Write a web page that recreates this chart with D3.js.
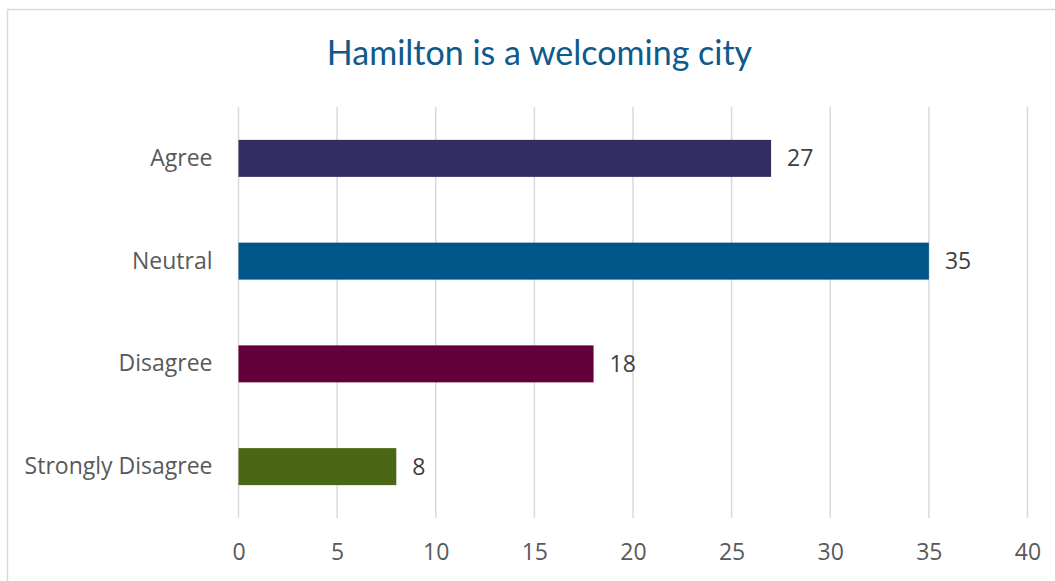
<!DOCTYPE html>
<html><head><meta charset="utf-8">
<script src="https://cdn.jsdelivr.net/npm/d3@7"></script>
<style>body{margin:0;background:#fff;}svg{display:block;}</style>
</head><body>
<script>
const title = "Hamilton is a welcoming city";
const categories = ["Agree", "Neutral", "Disagree", "Strongly Disagree"];
const values = [27, 35, 18, 8];
const colors = ["#322C63", "#01578A", "#63003C", "#4A6716"];
const xTicks = [0, 5, 10, 15, 20, 25, 30, 35, 40];

const W = 1055, H = 581;
const font = "'Open Sans', sans-serif";
const titleFont = "Lato, 'Open Sans', sans-serif";
const fs = 23;
const svg = d3.select("body").append("svg").attr("width", W).attr("height", H);

svg.append("rect").attr("x", 7.5).attr("y", 9.5).attr("width", W + 10).attr("height", H + 10)
  .attr("fill", "#fff").attr("stroke", "#D9D9D9").attr("stroke-width", 1.5);

const x = d3.scaleLinear().domain([0, 40]).range([238.5, 1027.5]);
const y = d3.scaleBand().domain(categories).range([107, 518]).paddingInner(0.64).paddingOuter(0.32);

// gridlines
svg.append("g").selectAll("line").data(xTicks).join("line")
  .attr("x1", d => x(d)).attr("x2", d => x(d)).attr("y1", 107).attr("y2", 518)
  .attr("stroke", "#D9D9D9").attr("stroke-width", 1.5);

// axis
const ax = svg.append("g").attr("transform", "translate(0,518)")
  .call(d3.axisBottom(x).tickValues(xTicks).tickSize(0).tickPadding(26));
ax.select(".domain").remove();
ax.selectAll("text").attr("font-family", font).attr("font-size", fs).attr("fill", "#595959");

const ay = svg.append("g").attr("transform", "translate(238.5,0)")
  .call(d3.axisLeft(y).tickSize(0).tickPadding(26));
ay.select(".domain").remove();
ay.selectAll("text").attr("font-family", font).attr("font-size", fs).attr("fill", "#595959");

svg.append("g").selectAll("rect").data(values).join("rect")
  .attr("x", x(0)).attr("y", (d, i) => y(categories[i]))
  .attr("width", d => x(d) - x(0)).attr("height", y.bandwidth())
  .attr("fill", (d, i) => colors[i]);

svg.append("g").selectAll("text").data(values).join("text")
  .attr("x", d => x(d) + 16).attr("y", (d, i) => y(categories[i]) + y.bandwidth() / 2)
  .attr("dy", "0.35em").attr("font-family", font).attr("font-size", fs).attr("fill", "#404040")
  .text(d => d);

svg.append("text").attr("x", 539.5).attr("y", 65).attr("text-anchor", "middle")
  .attr("font-family", titleFont).attr("font-size", 34).attr("fill", "#0F5A8C").text(title);
</script>
</body></html>
